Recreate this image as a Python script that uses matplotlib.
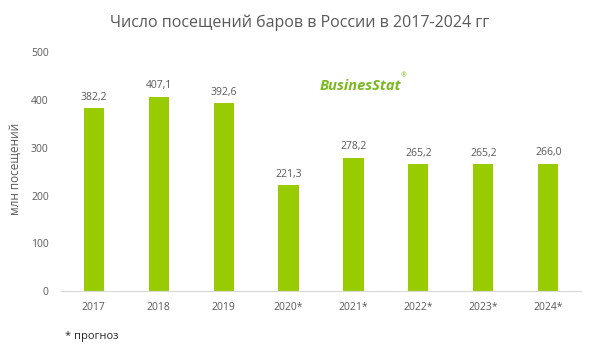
import matplotlib.pyplot as plt

plt.rcParams['font.family'] = ['Open Sans', 'DejaVu Sans']

years = ["2017", "2018", "2019", "2020*", "2021*", "2022*", "2023*", "2024*"]
visits = [382.2, 407.1, 392.6, 221.3, 278.2, 265.2, 265.2, 266.0]
value_labels = ["382,2", "407,1", "392,6", "221,3", "278,2", "265,2", "265,2", "266,0"]

GREEN = "#99CC00"
GREY = "#595959"

fig = plt.figure(figsize=(6, 3.52), dpi=100)
ax = fig.add_axes([0.102, 0.173, 0.866, 0.679])

x = range(len(years))
bars = ax.bar(x, visits, width=0.31, color=GREEN)
for xi, v, lab in zip(x, visits, value_labels):
    ax.text(xi, v + 12, lab, ha="center", va="bottom", fontsize=7.5, color=GREY)

ax.set_xlim(-0.5, len(years) - 0.5)
ax.set_ylim(0, 500)
ax.set_yticks(range(0, 501, 100))
ax.set_xticks(list(x))
ax.set_xticklabels(years)
ax.tick_params(axis="both", length=0, labelsize=7.5, colors=GREY)
ax.tick_params(axis="x", pad=8)
ax.tick_params(axis="y", pad=9)
for s in ["top", "right", "left"]:
    ax.spines[s].set_visible(False)
ax.spines["bottom"].set_color("#d9d9d9")

fig.text(0.025, 0.52, "млн посещений", rotation=90, ha="center", va="center",
         fontsize=8.5, color=GREY)

fig.text(0.5, 0.935, "Число посещений баров в России в 2017-2024 гг",
         ha="center", va="center", fontsize=11.5, color=GREY)
fig.text(0.108, 0.043, "* прогноз", ha="left", va="center", fontsize=8, color="#262626")

# logo
fig.text(0.60, 0.755, "BusinesStat", ha="center", va="center", fontsize=10.5,
         fontweight="bold", style="italic", color="#7aba1e")
fig.text(0.673, 0.785, "®", ha="center", va="center", fontsize=5, color="#7aba1e")

fig.savefig("out.png", dpi=100)
